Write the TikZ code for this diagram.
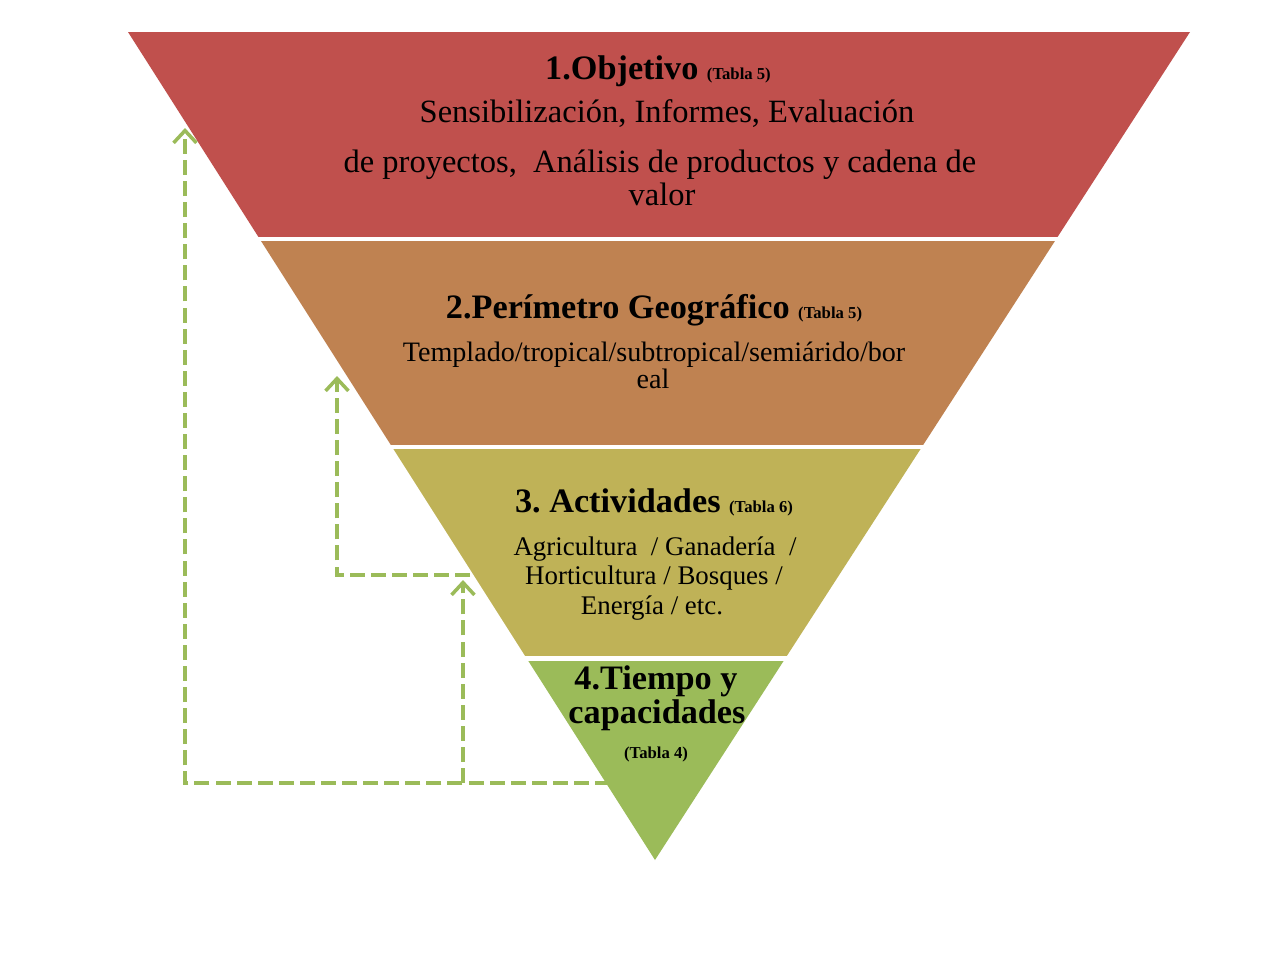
\documentclass[tikz,border=0pt]{standalone}
\usepackage{fontspec}
\setmainfont{Liberation Serif}
\usetikzlibrary{arrows.meta}
\definecolor{bandA}{RGB}{192,80,77}
\definecolor{bandB}{RGB}{191,130,81}
\definecolor{bandC}{RGB}{191,178,87}
\definecolor{bandD}{RGB}{155,187,89}
\definecolor{flow}{RGB}{155,187,89}
\newcommand{\ttl}{\bfseries\fontsize{19.5}{22}\selectfont}
\newcommand{\tbl}{\bfseries\fontsize{9.5}{11}\selectfont}
\tikzset{
  txt/.style={anchor=base, inner sep=0pt, text=black},
  flowline/.style={draw=flow, line width=2.3pt, dash pattern=on 8.5pt off 3.5pt,
    -{Straight Barb[length=7pt,width=13pt,line width=2pt]}}
}
\begin{document}
\begin{tikzpicture}[x=0.02cm,y=-0.02cm]
\useasboundingbox (0,0) rectangle (1282,971);
\fill[white] (0,0) rectangle (1282,971);
% bands of the inverted pyramid
\begin{scope}
  \clip (0,32) rectangle (1282,236);
  \fill[bandA] (128,32) -- (1190,32) -- (655,860) -- cycle;
\end{scope}
\begin{scope}
  \clip (0,241) rectangle (1282,444);
  \fill[bandB] (128,32) -- (1190,32) -- (655,860) -- cycle;
\end{scope}
\begin{scope}
  \clip (0,449) rectangle (1282,655);
  \fill[bandC] (128,32) -- (1190,32) -- (655,860) -- cycle;
\end{scope}
\begin{scope}
  \clip (0,661) rectangle (1282,870);
  \fill[bandD] (128,32) -- (1190,32) -- (655,860) -- cycle;
\end{scope}
% texts
\node[txt] (o1) at (658,79) {\ttl 1.Objetivo \tbl(Tabla 5)};
\node[txt] (o2) at (667,122) {\fontsize{18.5}{22}\selectfont Sensibilización, Informes, Evaluación};
\node[txt] (o3) at (660,172) {\fontsize{18.5}{22}\selectfont de proyectos,\ \ Análisis de productos y cadena de};
\node[txt] (o4) at (662,205) {\fontsize{18.5}{22}\selectfont valor};
\node[txt] (p1) at (654,318) {\ttl 2.Perímetro Geográfico \tbl(Tabla 5)};
\node[txt] (p2) at (654,361) {\fontsize{16}{18}\selectfont Templado/tropical/subtropical/semiárido/bor};
\node[txt] (p3) at (653,388) {\fontsize{16}{18}\selectfont eal};
\node[txt] (a1) at (654,512) {\ttl 3.\ Actividades \tbl(Tabla 6)};
\node[txt] (a2) at (655,555) {\fontsize{15.3}{18}\selectfont Agricultura\ \ / Ganadería\ \ /};
\node[txt] (a3) at (654,584) {\fontsize{15.3}{18}\selectfont Horticultura / Bosques /};
\node[txt] (a4) at (652,614) {\fontsize{15.3}{18}\selectfont Energía / etc.};
\node[txt] (c1) at (656,689) {\ttl 4.Tiempo y};
\node[txt] (c2) at (657,723) {\ttl capacidades};
\node[txt] (c3) at (656,758) {\tbl (Tabla 4)};
% feedback connectors
\coordinate (s4) at (610,783);
\coordinate (e1) at (185,128);
\coordinate (j2) at (463,783);
\coordinate (e3) at (463,580);
\coordinate (s3) at (470,575);
\coordinate (e2) at (337,376);
\draw[flowline] (s4) -| (e1);
\draw[flowline] (j2) -- (e3);
\draw[flowline] (s3) -| (e2);
\end{tikzpicture}
\end{document}
